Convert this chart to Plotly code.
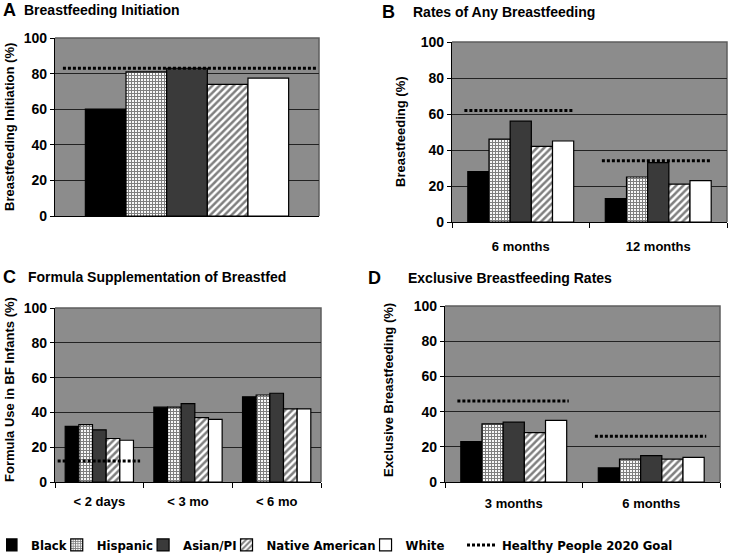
import plotly.graph_objects as go

# ---------------- data ----------------
groups = ["Black", "Hispanic", "Asian/PI", "Native American", "White"]

a_cats = [""]
a_vals = {"Black": [60], "Hispanic": [81], "Asian/PI": [83], "Native American": [74], "White": [77.5]}
a_goal = [83]

b_cats = ["6 months", "12 months"]
b_vals = {"Black": [28, 13], "Hispanic": [46, 25], "Asian/PI": [56, 33], "Native American": [42, 21], "White": [45, 23]}
b_goal = [62, 34]

c_cats = ["< 2 days", "< 3 mo", "< 6 mo"]
c_vals = {"Black": [32, 43, 49], "Hispanic": [33, 43, 50], "Asian/PI": [30, 45, 51], "Native American": [25, 37, 42], "White": [24, 36, 42]}
c_goal = [12, None, None]

d_cats = ["3 months", "6 months"]
d_vals = {"Black": [23, 8], "Hispanic": [33, 13], "Asian/PI": [34, 15], "Native American": [28, 13], "White": [35, 14]}
d_goal = [46, 26]

y_ticks = [0, 20, 40, 60, 80, 100]
goal_name = "Healthy People 2020 Goal"

# ---------------- styles ----------------
FONT = "Liberation Sans, Arial, sans-serif"
LEGFONT = "Liberation Sans Narrow, DejaVu Sans Condensed, Liberation Sans, Arial, sans-serif"
BG = "#8c8c8c"
styles = {
    "Black": dict(color="#000000"),
    "Hispanic": dict(color="#ffffff", pattern=dict(shape="+", fgcolor="#000000", bgcolor="#ffffff", size=3, solidity=0.6)),
    "Asian/PI": dict(color="#3a3a3a"),
    "Native American": dict(color="#ffffff", pattern=dict(shape="/", fgcolor="#000000", bgcolor="#ffffff", size=5, solidity=0.5)),
    "White": dict(color="#ffffff"),
}

fig = go.Figure()

panels = [
    ("x", "y", a_cats, a_vals, a_goal, (-0.47, 0.49)),
    ("x2", "y2", b_cats, b_vals, b_goal, (-0.41, 0.39)),
    ("x3", "y3", c_cats, c_vals, c_goal, (-0.47, 0.46)),
    ("x4", "y4", d_cats, d_vals, d_goal, (-0.41, 0.40)),
]

shapes = []
for pi, (xa, ya, cats, vals, goal, span) in enumerate(panels):
    xs = list(range(len(cats)))
    for g in groups:
        fig.add_trace(go.Bar(
            x=xs, y=vals[g], name=g, xaxis=xa, yaxis=ya,
            marker=dict(line=dict(color="#000000", width=1.2), **styles[g]),
            showlegend=(pi == 0), legendgroup=g, legend="legend",
        ))
    for i, gv in enumerate(goal):
        if gv is None:
            continue
        fig.add_trace(go.Scatter(
            x=[i + span[0], i + span[1]], y=[gv, gv], mode="lines",
            line=dict(color="#000000", width=3, dash="3px,2px"),
            name=goal_name, xaxis=xa, yaxis=ya,
            showlegend=(pi == 0 and i == 0), legendgroup="goal", legend="legend2",
        ))
    # subtle top/right frame of the plot area
    shapes.append(dict(type="path", xref=xa + " domain", yref=ya + " domain",
                       path="M 0 1 L 1 1 L 1 0", line=dict(color="#5e5e5e", width=1.5),
                       layer="below"))

W, H = 729, 554
def dx(a, b):
    return [a / W, b / W]
def dy(top, bot):
    return [1 - bot / H, 1 - top / H]

common_y = dict(
    range=[0, 100], tickvals=y_ticks, showgrid=True, gridcolor="#222222", gridwidth=1,
    showline=True, linecolor="#000000", linewidth=1.2, ticks="outside", ticklen=4,
    tickcolor="#000000", tickfont=dict(family=FONT, size=14, color="#000000", weight="bold"),
    zeroline=False, fixedrange=True,
)

def xaxis(domain, n, labels, anchor, standoff=0, boundary_ticks=True):
    d = dict(
        domain=domain, range=[-0.5, n - 0.5], tickvals=list(range(n)), ticktext=labels,
        ticks="", showgrid=False, zeroline=False, showline=True, linecolor="#000000",
        linewidth=1.2, anchor=anchor, fixedrange=True, ticklabelstandoff=standoff,
        tickfont=dict(family=FONT, size=13, color="#000000", weight="bold"),
    )
    if boundary_ticks:
        d["minor"] = dict(tickvals=[k - 0.5 for k in range(n + 1)], ticks="outside", ticklen=5,
                          tickcolor="#000000", showgrid=False)
    return d

legfont = dict(family=LEGFONT, size=13, color="#000000", weight="bold")
fig.update_layout(
    width=W, height=H, margin=dict(l=0, r=0, t=0, b=0, autoexpand=False),
    paper_bgcolor="#ffffff", plot_bgcolor=BG,
    barmode="group", bargap=0.23, bargroupgap=0,
    xaxis=xaxis(dx(55, 319), 1, [""], "y", boundary_ticks=False),
    yaxis=dict(domain=dy(38, 216), anchor="x", **common_y),
    xaxis2=xaxis(dx(452, 727), 2, b_cats, "y2", standoff=12),
    yaxis2=dict(domain=dy(42, 222), anchor="x2", **common_y),
    xaxis3=xaxis(dx(55, 321), 3, c_cats, "y3", standoff=7),
    yaxis3=dict(domain=dy(308, 482), anchor="x3", **common_y),
    xaxis4=xaxis(dx(445, 720), 2, d_cats, "y4", standoff=9),
    yaxis4=dict(domain=dy(306, 482), anchor="x4", **common_y),
    legend=dict(orientation="h", x=6 / W, xanchor="left", y=1 - 545 / H, yanchor="middle",
                font=legfont, itemwidth=30, tracegroupgap=0, indentation=-15,
                bgcolor="rgba(0,0,0,0)"),
    legend2=dict(orientation="h", x=462 / W, xanchor="left", y=1 - 545 / H, yanchor="middle",
                 font=legfont, itemwidth=30, bgcolor="rgba(0,0,0,0)"),
    showlegend=True,
    shapes=shapes,
)

ann = []
def letter(x, y, t):
    ann.append(dict(x=x / W, y=1 - y / H, xref="paper", yref="paper", text=t, showarrow=False,
                    xanchor="left", yanchor="middle", font=dict(family=FONT, size=18, color="#000", weight="bold")))
def title(x, y, t):
    ann.append(dict(x=x / W, y=1 - y / H, xref="paper", yref="paper", text=t, showarrow=False,
                    xanchor="left", yanchor="middle", font=dict(family=FONT, size=14, color="#000", weight="bold")))
def ytitle(x, y, t):
    ann.append(dict(x=x / W, y=1 - y / H, xref="paper", yref="paper", text=t, showarrow=False,
                    textangle=-90, xanchor="center", yanchor="middle",
                    font=dict(family=FONT, size=13, color="#000", weight="bold")))

letter(1, 10, "A"); title(22, 10, "Breastfeeding Initiation")
letter(380, 12, "B"); title(411, 12, "Rates of Any Breastfeeding")
letter(1, 277, "C"); title(26, 277, "Formula Supplementation of Breastfed")
letter(366, 278, "D"); title(406, 278, "Exclusive Breastfeeding Rates")
ytitle(9, 127, "Breastfeeding Initiation (%)")
ytitle(400, 132, "Breastfeeding (%)")
ytitle(9, 390, "Formula Use in BF Infants (%)")
ytitle(388, 390, "Exclusive Breastfeeding (%)")
fig.update_layout(annotations=ann)

fig.write_html("out.html", config={"displayModeBar": False},
               post_script="document.body.style.margin='0';")
